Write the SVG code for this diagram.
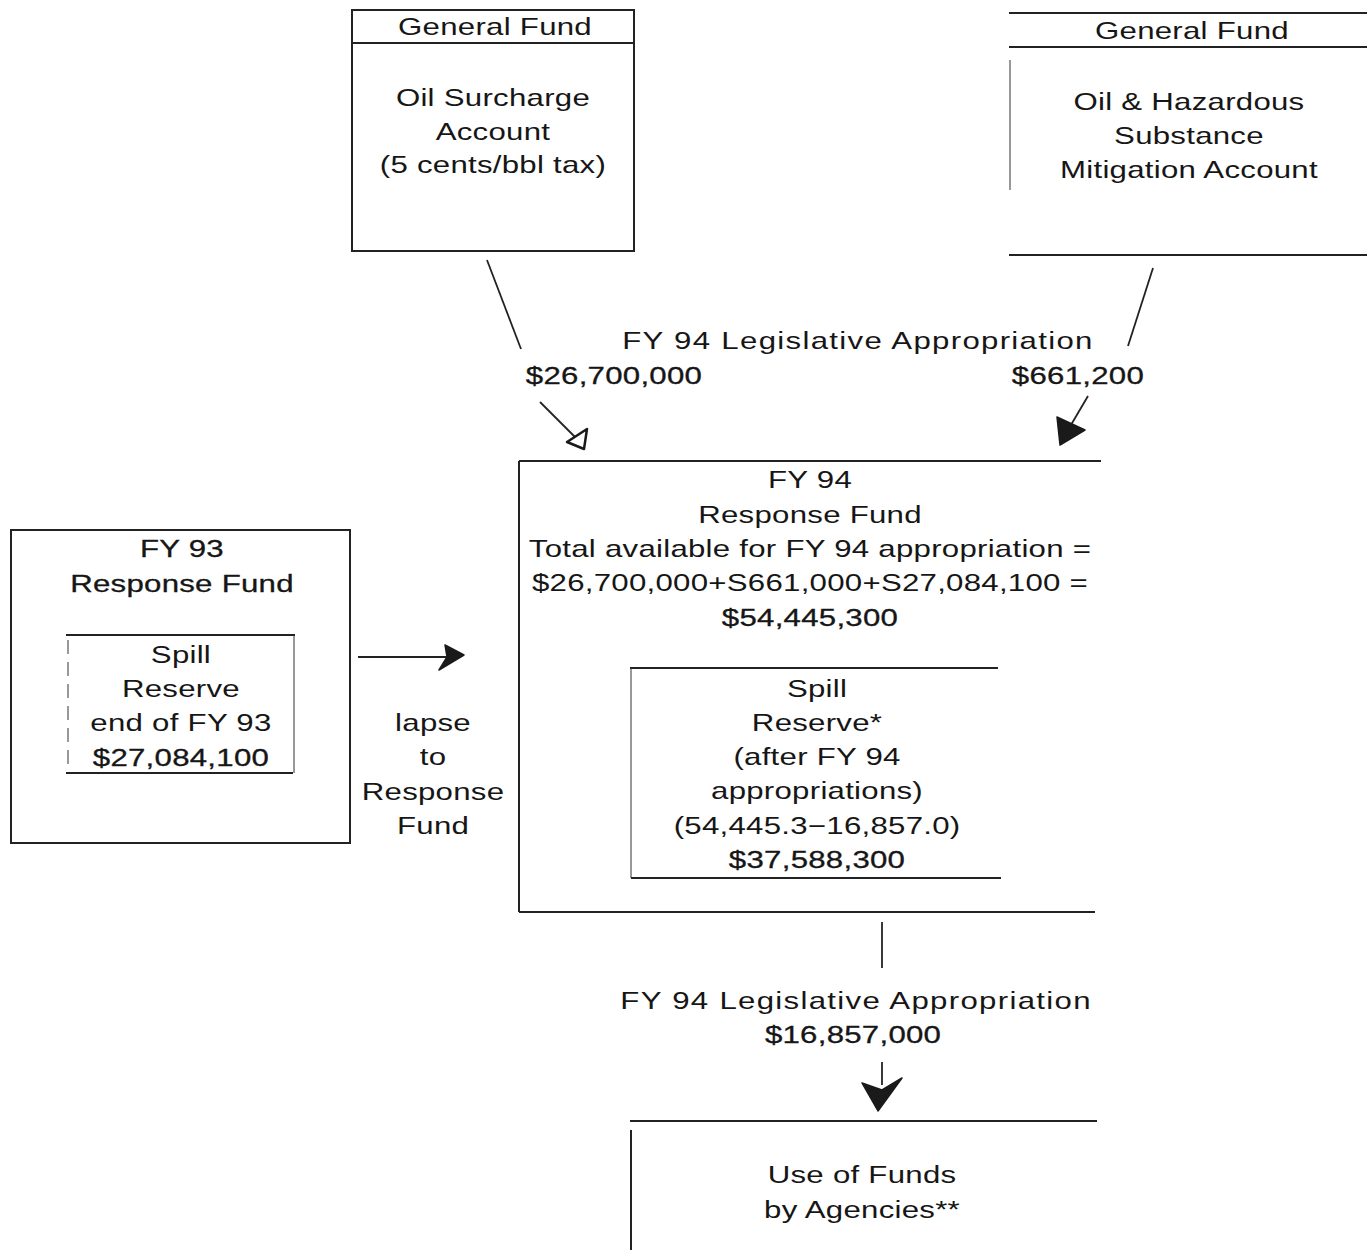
<svg xmlns="http://www.w3.org/2000/svg" width="1367" height="1257" viewBox="0 0 1367 1257">
<style>
text{font-family:"Liberation Sans",Arial,sans-serif;font-size:24px;fill:#161616;text-anchor:middle;letter-spacing:0.2px}
.b{stroke:#161616;stroke-width:0.3px}
.w{letter-spacing:1px}
.ln{stroke:#222;stroke-width:2;fill:none}
.fa{stroke:#333;stroke-width:1;fill:none}
.cn{stroke:#222;stroke-width:1.8;fill:none}
.hf{fill:#1a1a1a;stroke:#1a1a1a;stroke-width:1.5;stroke-linejoin:round}
.ho{fill:#fff;stroke:#1a1a1a;stroke-width:2.5;stroke-linejoin:round}
</style>
<rect width="1367" height="1257" fill="#fff"/>

<g id="oil-surcharge">
  <rect x="352" y="10" width="282" height="241" class="ln"/>
  <line x1="352" y1="43" x2="634" y2="43" class="ln"/>
  <g transform="scale(1.3,1)">
    <text x="380.8" y="35">General Fund</text>
    <text x="379.2" y="106">Oil Surcharge</text>
    <text x="379.2" y="140">Account</text>
    <text x="379.2" y="173">(5 cents/bbl tax)</text>
  </g>
</g>

<g id="oil-hazardous">
  <line x1="1009" y1="13" x2="1367" y2="13" class="ln"/>
  <line x1="1009" y1="47" x2="1367" y2="47" class="ln"/>
  <line x1="1009" y1="255" x2="1367" y2="255" class="ln"/>
  <line x1="1010" y1="60" x2="1010" y2="190" class="fa"/>
  <g transform="scale(1.3,1)">
    <text x="916.9" y="39">General Fund</text>
    <text x="914.6" y="110">Oil &amp; Hazardous</text>
    <text x="914.6" y="144">Substance</text>
    <text x="914.6" y="178">Mitigation Account</text>
  </g>
</g>

<g id="appropriation-top-label">
  <g transform="scale(1.3,1)">
    <text x="660" y="349" class="w">FY 94 Legislative Appropriation</text>
    <text x="472.3" y="384" class="b">$26,700,000</text>
    <text x="829.2" y="384" class="b">$661,200</text>
  </g>
</g>

<g id="fy94-response-fund">
  <line x1="519" y1="461" x2="1101" y2="461" class="ln"/>
  <line x1="519" y1="461" x2="519" y2="912" class="ln"/>
  <line x1="519" y1="912" x2="1095" y2="912" class="ln"/>
  <g transform="scale(1.3,1)">
    <text x="623.1" y="488">FY 94</text>
    <text x="623.1" y="523">Response Fund</text>
    <text x="623.1" y="557">Total available for FY 94 appropriation =</text>
    <text x="623.1" y="591">$26,700,000+S661,000+S27,084,100 =</text>
    <text x="623.1" y="626" class="b">$54,445,300</text>
  </g>
</g>

<g id="fy94-spill-reserve">
  <line x1="630" y1="668" x2="998" y2="668" class="ln"/>
  <line x1="631" y1="668" x2="631" y2="878" class="fa"/>
  <line x1="631" y1="878" x2="1001" y2="878" class="ln"/>
  <g transform="scale(1.3,1)">
    <text x="628.5" y="697">Spill</text>
    <text x="628.5" y="731">Reserve*</text>
    <text x="628.5" y="765">(after FY 94</text>
    <text x="628.5" y="799">appropriations)</text>
    <text x="628.5" y="834">(54,445.3−16,857.0)</text>
    <text x="628.5" y="868" class="b">$37,588,300</text>
  </g>
</g>

<g id="fy93-response-fund">
  <rect x="11" y="530" width="339" height="313" class="ln"/>
  <g transform="scale(1.3,1)">
    <text x="140" y="557" class="b">FY 93</text>
    <text x="140" y="592" class="b">Response Fund</text>
  </g>
</g>

<g id="fy93-spill-reserve">
  <line x1="66" y1="635" x2="295" y2="635" class="ln"/>
  <line x1="68" y1="640" x2="68" y2="770" class="fa" stroke-dasharray="14 8"/>
  <line x1="294" y1="635" x2="294" y2="773" class="fa"/>
  <line x1="66" y1="773" x2="293" y2="773" class="ln"/>
  <g transform="scale(1.3,1)">
    <text x="139.2" y="663">Spill</text>
    <text x="139.2" y="697">Reserve</text>
    <text x="139.2" y="731">end of FY 93</text>
    <text x="139.2" y="766" class="b">$27,084,100</text>
  </g>
</g>

<g id="lapse-label">
  <g transform="scale(1.3,1)">
    <text x="333.1" y="731">lapse</text>
    <text x="333.1" y="765">to</text>
    <text x="333.1" y="800">Response</text>
    <text x="333.1" y="834">Fund</text>
  </g>
</g>

<g id="appropriation-bottom-label">
  <g transform="scale(1.3,1)">
    <text x="658.5" y="1009" class="w">FY 94 Legislative Appropriation</text>
    <text x="656.2" y="1043" class="b">$16,857,000</text>
  </g>
</g>

<g id="use-of-funds">
  <line x1="630" y1="1121" x2="1097" y2="1121" class="ln"/>
  <line x1="631" y1="1130" x2="631" y2="1250" class="ln"/>
  <g transform="scale(1.3,1)">
    <text x="663.1" y="1183">Use of Funds</text>
    <text x="663.1" y="1218">by Agencies**</text>
  </g>
</g>

<g id="connectors">
  <line x1="487" y1="260" x2="521" y2="349" class="cn"/>
  <line x1="540" y1="402" x2="580" y2="442" class="cn"/>
  <polygon points="567,442 587,429 584,449" class="ho"/>
  <line x1="1153" y1="268" x2="1128" y2="346" class="cn"/>
  <line x1="1088" y1="396" x2="1068" y2="430" class="cn"/>
  <polygon points="1057,417 1085,430 1060,445" class="hf"/>
  <line x1="358" y1="657" x2="450" y2="657" class="cn"/>
  <polygon points="445,645 464,655 439,670 447,657" class="hf"/>
  <line x1="882" y1="922" x2="882" y2="968" class="cn"/>
  <line x1="882" y1="1062" x2="882" y2="1085" class="cn"/>
  <polygon points="862,1083 882,1090 902,1078 878,1111" class="hf"/>
</g>
</svg>
